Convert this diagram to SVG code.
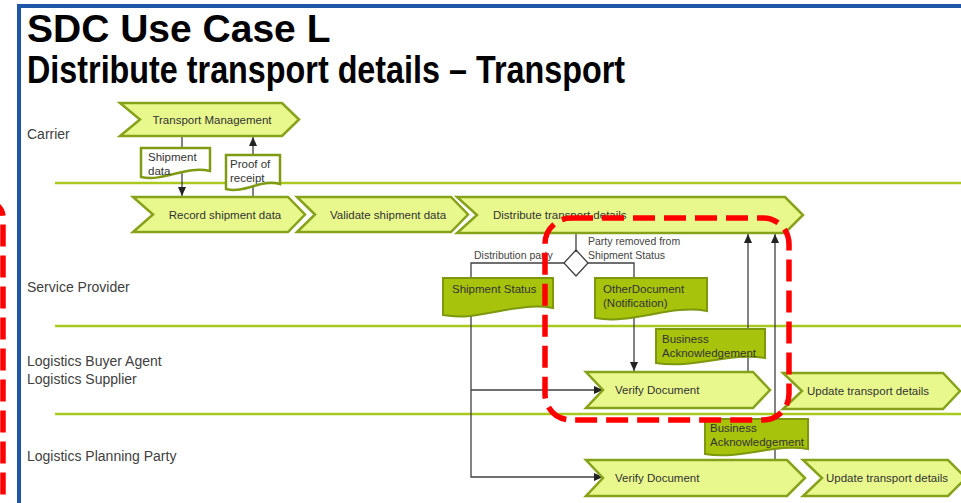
<svg xmlns="http://www.w3.org/2000/svg" width="961" height="503" viewBox="0 0 961 503">
<defs>
<marker id="arr" markerUnits="userSpaceOnUse" markerWidth="9" markerHeight="8" refX="9" refY="4" orient="auto">
<path d="M0,0 L9,4 L0,8 Z" fill="#222"/>
</marker>
<style>
.title{font-family:"Liberation Sans",Arial,sans-serif;font-weight:bold;fill:#000}
.lane{font-family:"Liberation Sans",Arial,sans-serif;font-size:14px;fill:#404040}
.lline{stroke:#a9c91f;stroke-width:2.5;fill:none}
.chev{fill:#e8f88c;stroke:#86a21b;stroke-width:2.5;stroke-linejoin:miter}
.docw{fill:#ffffff;stroke:#7f9b14;stroke-width:2.5}
.docd{fill:#a7c30c;stroke:#7d980d;stroke-width:2}
.t{font-family:"Liberation Sans",Arial,sans-serif;font-size:11.5px;fill:#333}
.s{font-family:"Liberation Sans",Arial,sans-serif;font-size:10.5px;fill:#444}
.c{stroke:#404040;stroke-width:1.3;fill:none}
.ca{stroke:#404040;stroke-width:1.3;fill:none;marker-end:url(#arr)}
.red{stroke:#ff0000;stroke-width:5.5;fill:none;stroke-dasharray:22 9}
</style>
</defs>

<path d="M19,510 V6 H970" fill="none" stroke="#1f57a6" stroke-width="4"/>

<text class="title" x="27" y="42" font-size="39">SDC Use Case L</text>
<text class="title" x="27" y="83" font-size="38" textLength="598" lengthAdjust="spacingAndGlyphs">Distribute transport details – Transport</text>

<g id="lanes">
<path class="lline" d="M55,183 H961 M55,326 H961 M55,414 H961"/>
<text class="lane" x="27" y="139">Carrier</text>
<text class="lane" x="27" y="292">Service Provider</text>
<text class="lane" x="27" y="366">Logistics Buyer Agent</text>
<text class="lane" x="27" y="384">Logistics Supplier</text>
<text class="lane" x="27" y="461">Logistics Planning Party</text>
</g>

<g id="connectors">
<path class="ca" d="M182,136 V196"/>
<path class="ca" d="M253,197 V137"/>
<path class="c" d="M576,233 V250"/>
<path class="c" d="M564,263 H471 V278"/>
<path class="c" d="M588,263 H634 V278"/>
<path class="ca" d="M471,316 V477 H603"/>
<path class="ca" d="M471,390 H603"/>
<path class="ca" d="M634,318 V371"/>
<path class="ca" d="M748,372 V234"/>
<path class="ca" d="M775,460 V234"/>
<text class="s" x="474" y="259">Distribution party</text>
<text class="s" x="588" y="245">Party removed from</text>
<text class="s" x="588" y="259">Shipment Status</text>
</g>

<g id="transport-management">
<polygon class="chev" points="120,103 282,103 299,119.5 282,136 120,136 140,119.5"/>
<text class="t" x="212" y="123.5" text-anchor="middle">Transport Management</text>
</g>

<g id="shipment-data">
<path class="docw" d="M141,148 H210 V171 C186,165 165,182 141,177 Z"/>
<text class="t" x="148" y="161">Shipment</text>
<text class="t" x="148" y="175">data</text>
</g>

<g id="proof-of-receipt">
<path class="docw" d="M226,155 H280 V184 C262,178 245,194 226,189 Z"/>
<text class="t" x="230" y="168">Proof of</text>
<text class="t" x="230" y="182">receipt</text>
</g>

<g id="record-shipment-data">
<polygon class="chev" points="133,197 288,197 305,214.5 288,232 133,232 153,214.5"/>
<text class="t" x="225" y="218.5" text-anchor="middle">Record shipment data</text>
</g>

<g id="validate-shipment-data">
<polygon class="chev" points="297,197 451,197 468,214.5 451,232 297,232 315,214.5"/>
<text class="t" x="388" y="218.5" text-anchor="middle">Validate shipment data</text>
</g>

<g id="distribute-transport-details">
<polygon class="chev" points="457,197 785,197 803,215 785,233 457,233 477,215"/>
<text class="t" x="493" y="219">Distribute transport details</text>
</g>

<g id="decision">
<polygon points="576,250 588,263 576,276 564,263" fill="#fff" stroke="#404040" stroke-width="1.3"/>
</g>

<g id="shipment-status">
<path class="docd" d="M443,278 H553 V308 C515,301 480,322 443,315 Z"/>
<text class="t" x="452" y="293">Shipment Status</text>
</g>

<g id="other-document">
<path class="docd" d="M595,278 H707 V311 C670,304 633,325 595,318 Z"/>
<text class="t" x="603" y="293">OtherDocument</text>
<text class="t" x="603" y="307">(Notification)</text>
</g>

<g id="business-ack-1">
<path class="docd" d="M656,329 H765 V358 C730,352 693,369 656,363 Z"/>
<text class="t" x="662" y="343">Business</text>
<text class="t" x="662" y="357">Acknowledgement</text>
</g>

<g id="verify-document-1">
<polygon class="chev" points="586,372 753,372 770,390 753,408 586,408 603,390"/>
<text class="t" x="615" y="394">Verify Document</text>
</g>

<g id="update-transport-details-1">
<polygon class="chev" points="783,373 943,373 960,391 943,409 783,409 802,391"/>
<text class="t" x="807" y="395">Update transport details</text>
</g>

<g id="business-ack-2">
<path class="docd" d="M705,419 H808 V449 C775,443 740,460 705,454 Z"/>
<text class="t" x="710" y="432">Business</text>
<text class="t" x="710" y="446">Acknowledgement</text>
</g>

<g id="verify-document-2">
<polygon class="chev" points="586,460 787,460 805,478 787,496 586,496 603,478"/>
<text class="t" x="615" y="482">Verify Document</text>
</g>

<g id="update-transport-details-2">
<polygon class="chev" points="803,460 948,460 966,478 948,496 803,496 822,478"/>
<text class="t" x="826" y="482">Update transport details</text>
</g>

<g id="highlights">
<rect class="red" x="545" y="218" width="244" height="202" rx="26" ry="26"/>
<path class="red" d="M-12,202 A15,15 0 0 1 3,217 V510"/>
</g>
</svg>
